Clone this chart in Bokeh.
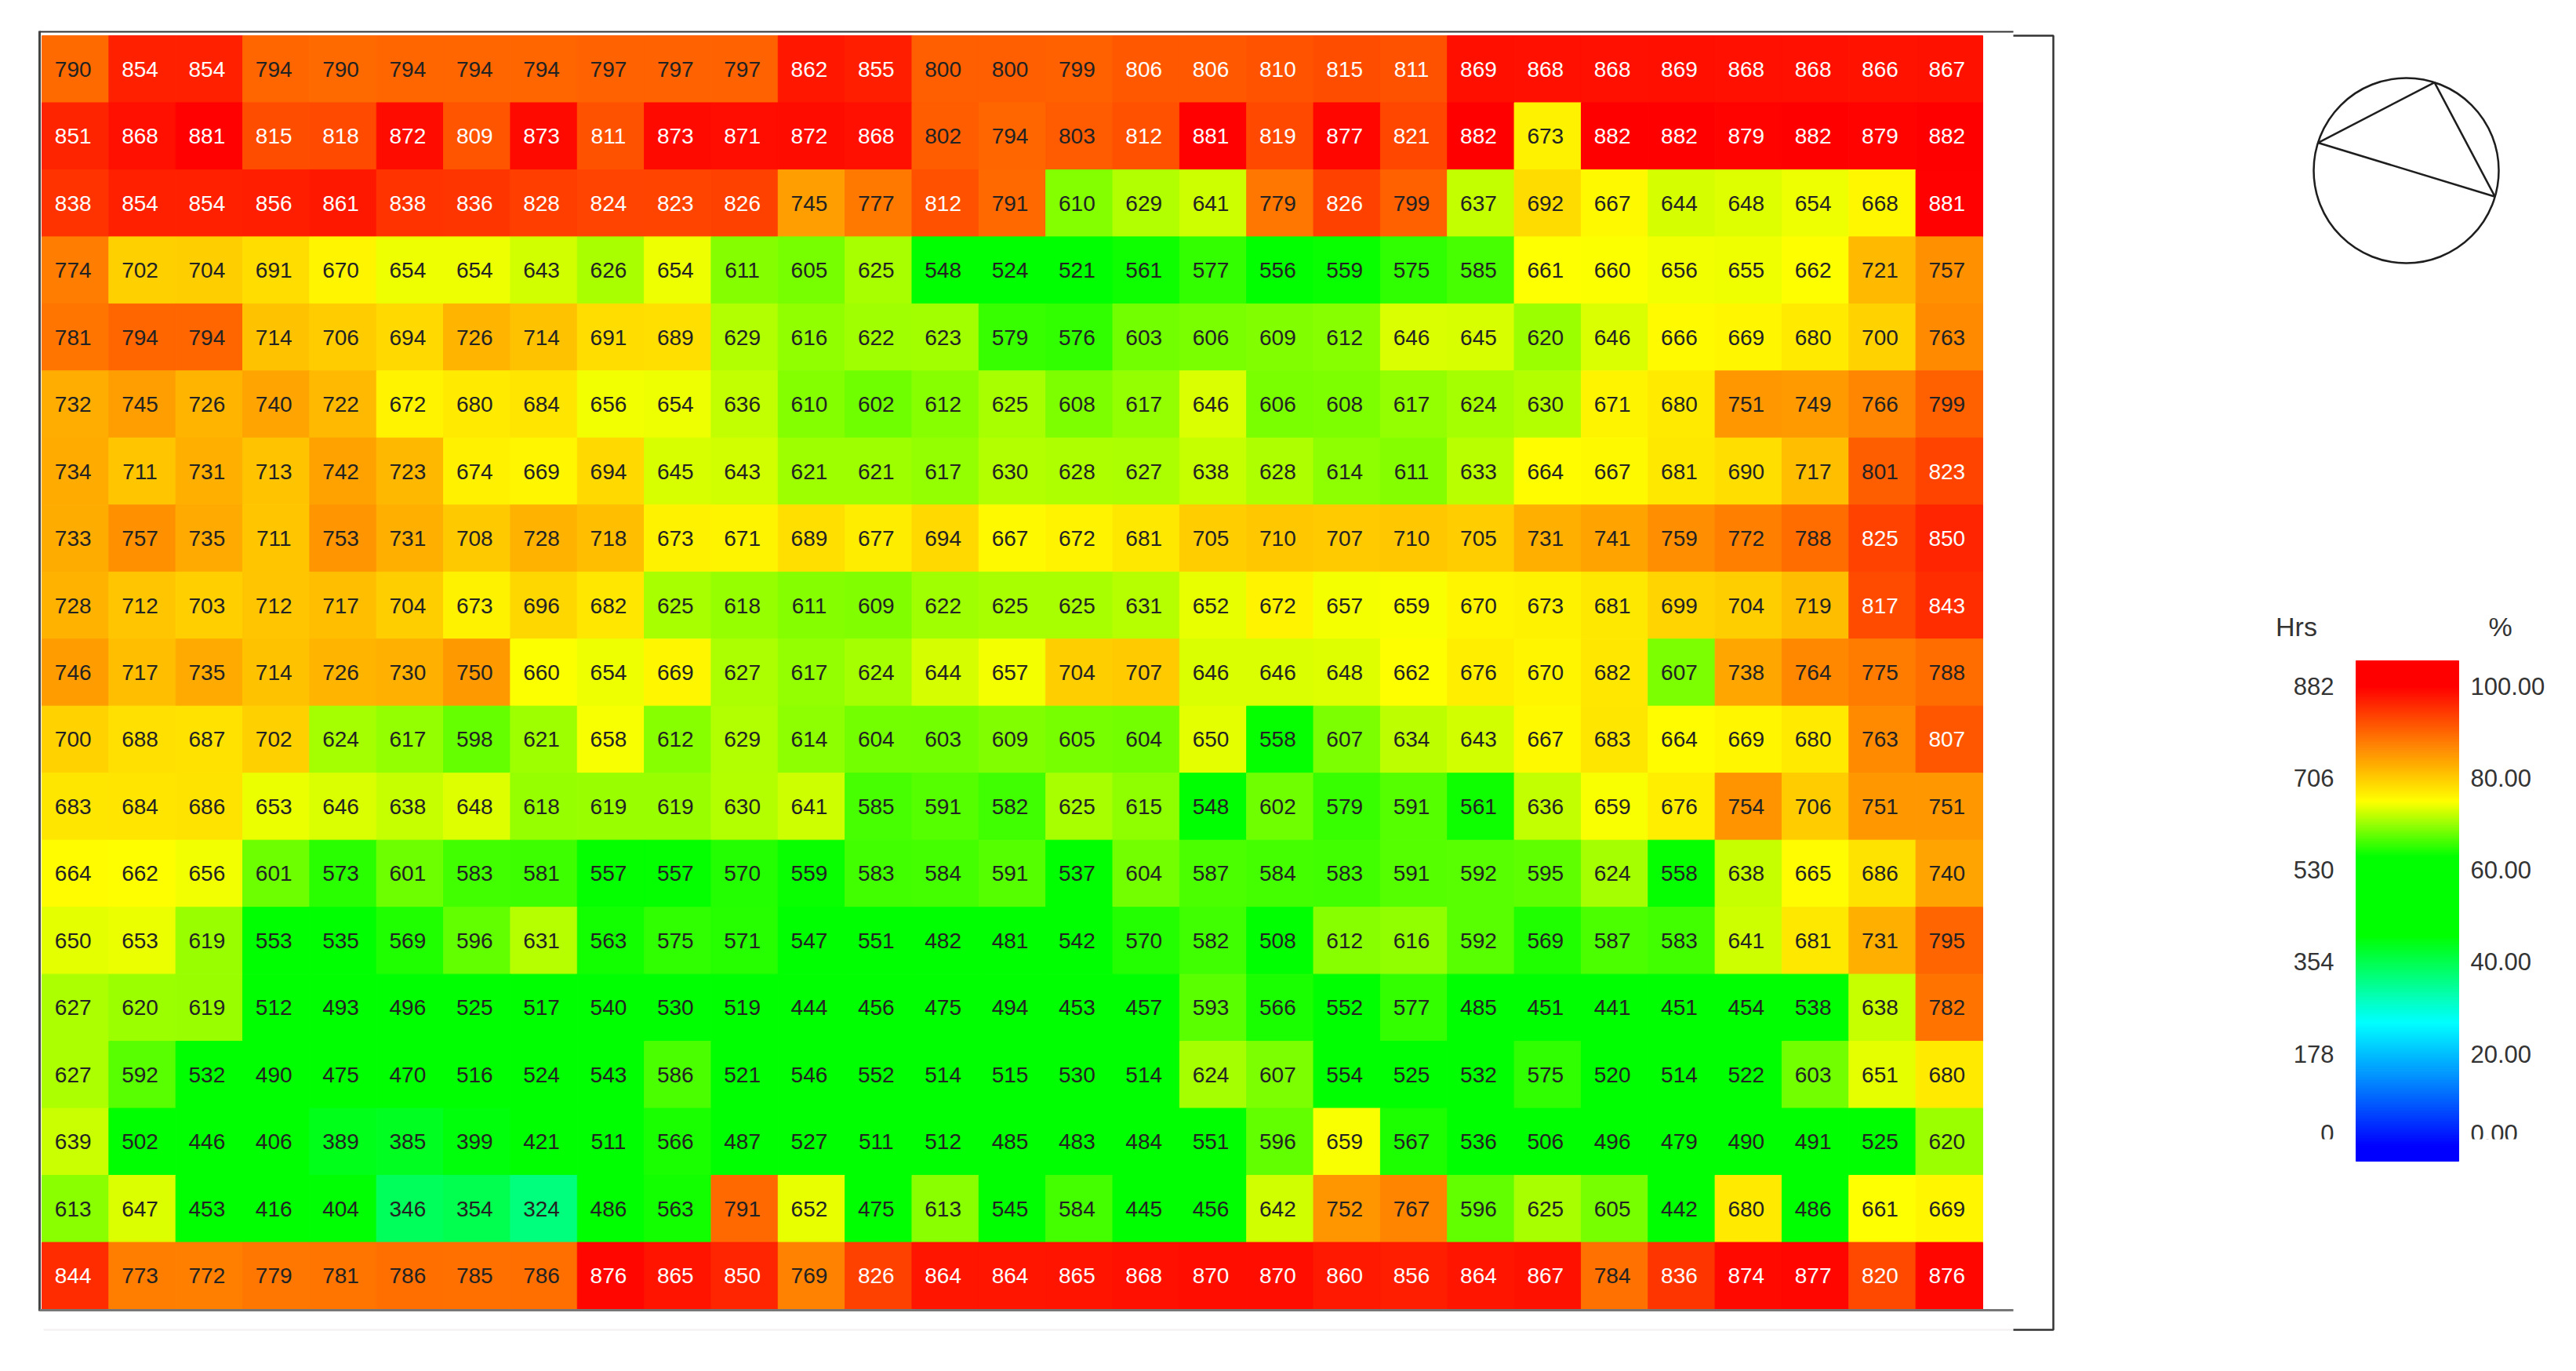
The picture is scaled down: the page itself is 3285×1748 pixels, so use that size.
import math
from bokeh.plotting import figure
from bokeh.models import Range1d, ColumnDataSource
from bokeh.core.properties import value
from bokeh.embed import file_html
from bokeh.resources import INLINE

# ---------------- data ----------------
ROW_01 = [790, 854, 854, 794, 790, 794, 794, 794, 797, 797, 797, 862, 855, 800, 800, 799, 806, 806, 810, 815, 811, 869, 868, 868, 869, 868, 868, 866, 867]
ROW_02 = [851, 868, 881, 815, 818, 872, 809, 873, 811, 873, 871, 872, 868, 802, 794, 803, 812, 881, 819, 877, 821, 882, 673, 882, 882, 879, 882, 879, 882]
ROW_03 = [838, 854, 854, 856, 861, 838, 836, 828, 824, 823, 826, 745, 777, 812, 791, 610, 629, 641, 779, 826, 799, 637, 692, 667, 644, 648, 654, 668, 881]
ROW_04 = [774, 702, 704, 691, 670, 654, 654, 643, 626, 654, 611, 605, 625, 548, 524, 521, 561, 577, 556, 559, 575, 585, 661, 660, 656, 655, 662, 721, 757]
ROW_05 = [781, 794, 794, 714, 706, 694, 726, 714, 691, 689, 629, 616, 622, 623, 579, 576, 603, 606, 609, 612, 646, 645, 620, 646, 666, 669, 680, 700, 763]
ROW_06 = [732, 745, 726, 740, 722, 672, 680, 684, 656, 654, 636, 610, 602, 612, 625, 608, 617, 646, 606, 608, 617, 624, 630, 671, 680, 751, 749, 766, 799]
ROW_07 = [734, 711, 731, 713, 742, 723, 674, 669, 694, 645, 643, 621, 621, 617, 630, 628, 627, 638, 628, 614, 611, 633, 664, 667, 681, 690, 717, 801, 823]
ROW_08 = [733, 757, 735, 711, 753, 731, 708, 728, 718, 673, 671, 689, 677, 694, 667, 672, 681, 705, 710, 707, 710, 705, 731, 741, 759, 772, 788, 825, 850]
ROW_09 = [728, 712, 703, 712, 717, 704, 673, 696, 682, 625, 618, 611, 609, 622, 625, 625, 631, 652, 672, 657, 659, 670, 673, 681, 699, 704, 719, 817, 843]
ROW_10 = [746, 717, 735, 714, 726, 730, 750, 660, 654, 669, 627, 617, 624, 644, 657, 704, 707, 646, 646, 648, 662, 676, 670, 682, 607, 738, 764, 775, 788]
ROW_11 = [700, 688, 687, 702, 624, 617, 598, 621, 658, 612, 629, 614, 604, 603, 609, 605, 604, 650, 558, 607, 634, 643, 667, 683, 664, 669, 680, 763, 807]
ROW_12 = [683, 684, 686, 653, 646, 638, 648, 618, 619, 619, 630, 641, 585, 591, 582, 625, 615, 548, 602, 579, 591, 561, 636, 659, 676, 754, 706, 751, 751]
ROW_13 = [664, 662, 656, 601, 573, 601, 583, 581, 557, 557, 570, 559, 583, 584, 591, 537, 604, 587, 584, 583, 591, 592, 595, 624, 558, 638, 665, 686, 740]
ROW_14 = [650, 653, 619, 553, 535, 569, 596, 631, 563, 575, 571, 547, 551, 482, 481, 542, 570, 582, 508, 612, 616, 592, 569, 587, 583, 641, 681, 731, 795]
ROW_15 = [627, 620, 619, 512, 493, 496, 525, 517, 540, 530, 519, 444, 456, 475, 494, 453, 457, 593, 566, 552, 577, 485, 451, 441, 451, 454, 538, 638, 782]
ROW_16 = [627, 592, 532, 490, 475, 470, 516, 524, 543, 586, 521, 546, 552, 514, 515, 530, 514, 624, 607, 554, 525, 532, 575, 520, 514, 522, 603, 651, 680]
ROW_17 = [639, 502, 446, 406, 389, 385, 399, 421, 511, 566, 487, 527, 511, 512, 485, 483, 484, 551, 596, 659, 567, 536, 506, 496, 479, 490, 491, 525, 620]
ROW_18 = [613, 647, 453, 416, 404, 346, 354, 324, 486, 563, 791, 652, 475, 613, 545, 584, 445, 456, 642, 752, 767, 596, 625, 605, 442, 680, 486, 661, 669]
ROW_19 = [844, 773, 772, 779, 781, 786, 785, 786, 876, 865, 850, 769, 826, 864, 864, 865, 868, 870, 870, 860, 856, 864, 867, 784, 836, 874, 877, 820, 876]
ROWS = [ROW_01, ROW_02, ROW_03, ROW_04, ROW_05, ROW_06, ROW_07, ROW_08, ROW_09, ROW_10,
        ROW_11, ROW_12, ROW_13, ROW_14, ROW_15, ROW_16, ROW_17, ROW_18, ROW_19]

MAX_HRS = 882
LEGEND_HRS = [882, 706, 530, 354, 178, 0]
LEGEND_PCT = ["100.00", "80.00", "60.00", "40.00", "20.00", "0.00"]
CHORD_ANGLES = [162.5, 72.2, -16.4]   # degrees, vertices of the inscribed triangle

# ---------------- colour scale (percent -> rgb) ----------------
STOPS = [(0, (0, 0, 255)), (27, (0, 255, 255)), (46, (0, 255, 0)),
         (63, (0, 255, 0)), (75, (255, 255, 0)), (100, (255, 0, 0))]


def cmap(pct):
    pct = max(0.0, min(100.0, pct))
    for (p0, c0), (p1, c1) in zip(STOPS[:-1], STOPS[1:]):
        if pct <= p1:
            t = (pct - p0) / (p1 - p0) if p1 > p0 else 0
            return "#%02x%02x%02x" % tuple(int(round(a + (b - a) * t)) for a, b in zip(c0, c1))
    return "#ff0000"


# ---------------- page geometry (screen px) ----------------
W, H = 3270, 1735
OX, OY = 0, 0
GX0, GX1, GY0, GY1 = 53, 2528, 45, 1669
n_rows, n_cols = len(ROWS), len(ROWS[0])
cw = (GX1 - GX0) / n_cols
ch = (GY1 - GY0) / n_rows

x_range = Range1d(-(GX0 - OX) / cw, n_cols + (OX + W - GX1) / cw)
y_range = Range1d(n_rows + (OY + H - GY1) / ch, -(GY0 - OY) / ch)

# legend scale: hours -> screen y
LY_TOP, LY_BOT = 874, 1461.6   # screen y of 882 and 0
k = (LY_BOT - LY_TOP) / MAX_HRS

p = figure(width=W, height=H, x_range=x_range, y_range=y_range,
           toolbar_location=None, output_backend="svg",
           x_axis_location=None, y_axis_location=None, min_border=0)
p.grid.visible = False
p.outline_line_color = None
p.background_fill_color = "white"
p.border_fill_color = "white"
p.extra_x_ranges = {"px": Range1d(OX, OX + W)}
p.extra_y_ranges = {"py": Range1d(OY + H, OY),
                    "hrs": Range1d(-(OY + H - LY_BOT) / k, MAX_HRS + (LY_TOP - OY) / k)}

# ---------------- heatmap ----------------
xs, ys, vals, fills, tcols = [], [], [], [], []
for r, row in enumerate(ROWS):
    for c, v in enumerate(row):
        xs.append(c + 0.5)
        ys.append(r + 0.5)
        vals.append(str(v))
        col = cmap(v / MAX_HRS * 100)
        fills.append(col)
        tcols.append("#ffffff" if v >= 805 else "#222222")
src = ColumnDataSource(dict(x=xs, y=ys, t=vals, f=fills, tc=tcols))
p.rect("x", "y", width=1, height=1, source=src, fill_color="f", line_color="f", line_width=1)
p.text("x", "y", text="t", source=src, text_color="tc", text_align="center",
       text_baseline="middle", text_font=value("Liberation Sans"),
       text_font_size="28px", x_offset=-3)

# ---------------- frame lines ----------------
p.line([50, 2567], [40, 40], x_range_name="px", y_range_name="py", line_color="#333333", line_width=2)
p.line([50, 50], [39, 1671], x_range_name="px", y_range_name="py", line_color="#444444", line_width=3)
p.line([50, 2567], [1670, 1670], x_range_name="px", y_range_name="py", line_color="#777777", line_width=3)
p.line([55, 2567], [1695, 1695], x_range_name="px", y_range_name="py", line_color="#f3eef0", line_width=2)
p.line([2567, 2618, 2618, 2567], [45, 45, 1695, 1695], x_range_name="px", y_range_name="py",
       line_color="#333333", line_width=2.5)

# ---------------- legend ----------------
nslc = 320
v_lo = -(1480 - LY_BOT) / k
v_hi = MAX_HRS + (LY_TOP - 842) / k
step = (v_hi - v_lo) / nslc
bots = [v_lo + i * step for i in range(nslc)]
tops = [b + step for b in bots]
cols = [cmap(((b + t) / 2) / MAX_HRS * 100) for b, t in zip(bots, tops)]
p.quad(left=3004, right=3135, bottom=bots, top=tops, fill_color=cols, line_color=cols,
       line_width=1, x_range_name="px", y_range_name="hrs")

lab_style = dict(x_range_name="px", y_range_name="hrs", text_baseline="middle",
                 text_font=value("Liberation Sans"), text_font_size="31px", text_color="#333333")
p.text(x=[2976] * 5, y=LEGEND_HRS[:5], text=[str(v) for v in LEGEND_HRS[:5]],
       text_align="right", **lab_style)
p.text(x=[3150] * 5, y=LEGEND_HRS[:5], text=LEGEND_PCT[:5], text_align="left", **lab_style)
# bottom labels sit a little higher and are clipped in the reference
p.text(x=[2976], y=LEGEND_HRS[5:], text=[str(v) for v in LEGEND_HRS[5:]],
       text_align="right", y_offset=-17, **lab_style)
p.text(x=[3150], y=LEGEND_HRS[5:], text=LEGEND_PCT[5:], text_align="left", y_offset=-17, **lab_style)
p.quad(left=[2900, 3140], right=[2995, 3270], top=[1452, 1452], bottom=[1510, 1510],
       fill_color="white", line_color=None, x_range_name="px", y_range_name="py")

p.text(x=[2928, 3188], y=[798, 798], text=["Hrs", "%"], x_range_name="px", y_range_name="py",
       text_align="center", text_baseline="middle", text_font=value("Liberation Sans"),
       text_font_size="34px", text_color="#333333")

# ---------------- chord icon ----------------
CX, CY, R = 3068, 217, 118
p.circle(x=[CX], y=[CY], radius=R, x_range_name="px", y_range_name="py",
         fill_color=None, line_color="#1e1e1e", line_width=2.5)
tx = [CX + R * math.cos(math.radians(a)) for a in CHORD_ANGLES]
ty = [CY - R * math.sin(math.radians(a)) for a in CHORD_ANGLES]
p.line(tx + tx[:1], ty + ty[:1], x_range_name="px", y_range_name="py",
       line_color="#1e1e1e", line_width=2.5)

open("out.html", "w").write(file_html(p, INLINE))
